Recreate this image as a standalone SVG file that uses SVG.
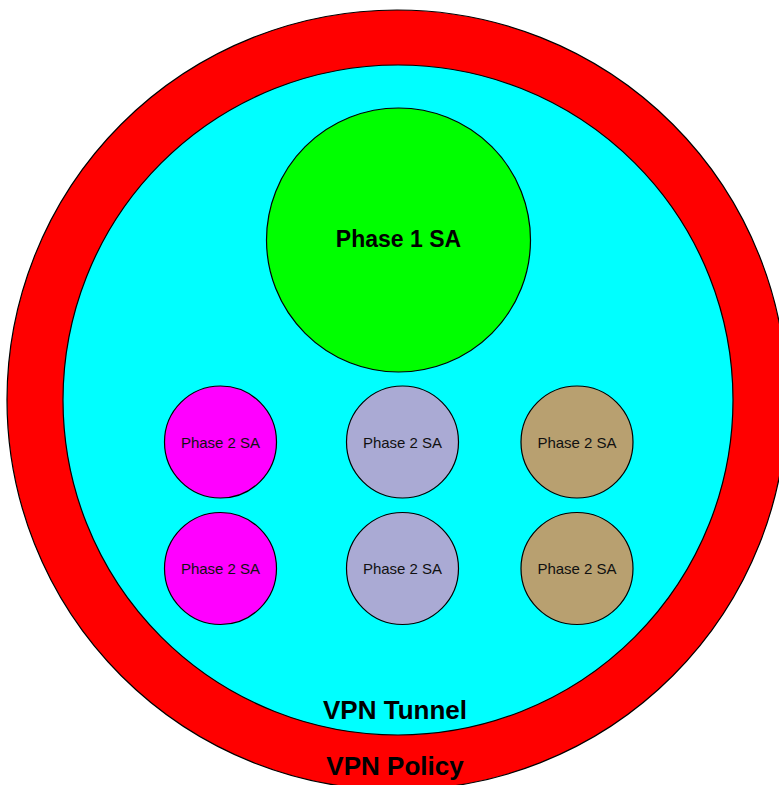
<svg xmlns="http://www.w3.org/2000/svg" width="779" height="785" viewBox="0 0 779 785">
  <style>
    .shape { stroke: #000; stroke-width: 1.2; }
    .big { font-family: "Liberation Sans", Arial, sans-serif; font-weight: bold; fill: #000; text-anchor: middle; }
    .small { font-family: "Liberation Sans", Arial, sans-serif; font-size: 15px; fill: #111; text-anchor: middle; }
  </style>
  <rect width="779" height="785" fill="#fff"/>

  <g id="vpn-policy">
    <circle class="shape" cx="397" cy="400" r="390" fill="#ff0000"/>
    <text class="big" x="395" y="775" font-size="26">VPN Policy</text>
  </g>

  <g id="vpn-tunnel">
    <circle class="shape" cx="398" cy="400" r="335" fill="#00ffff"/>
    <text class="big" x="395" y="719" font-size="26">VPN Tunnel</text>
  </g>

  <g id="phase1">
    <circle class="shape" cx="398.5" cy="240" r="132" fill="#00ff00"/>
    <text class="big" x="398.5" y="247" font-size="23">Phase 1 SA</text>
  </g>

  <g id="phase2-a1">
    <circle class="shape" cx="220.5" cy="442" r="56" fill="#ff00ff"/>
    <text class="small" x="220.5" y="448">Phase 2 SA</text>
  </g>
  <g id="phase2-a2">
    <circle class="shape" cx="220.5" cy="568.5" r="56" fill="#ff00ff"/>
    <text class="small" x="220.5" y="574">Phase 2 SA</text>
  </g>

  <g id="phase2-b1">
    <circle class="shape" cx="402.5" cy="442" r="56" fill="#aaaad4"/>
    <text class="small" x="402.5" y="448">Phase 2 SA</text>
  </g>
  <g id="phase2-b2">
    <circle class="shape" cx="402.5" cy="568.5" r="56" fill="#aaaad4"/>
    <text class="small" x="402.5" y="574">Phase 2 SA</text>
  </g>

  <g id="phase2-c1">
    <circle class="shape" cx="577" cy="442" r="56" fill="#b8a070"/>
    <text class="small" x="577" y="448">Phase 2 SA</text>
  </g>
  <g id="phase2-c2">
    <circle class="shape" cx="577" cy="568.5" r="56" fill="#b8a070"/>
    <text class="small" x="577" y="574">Phase 2 SA</text>
  </g>

  <g id="connectors"/>
</svg>
